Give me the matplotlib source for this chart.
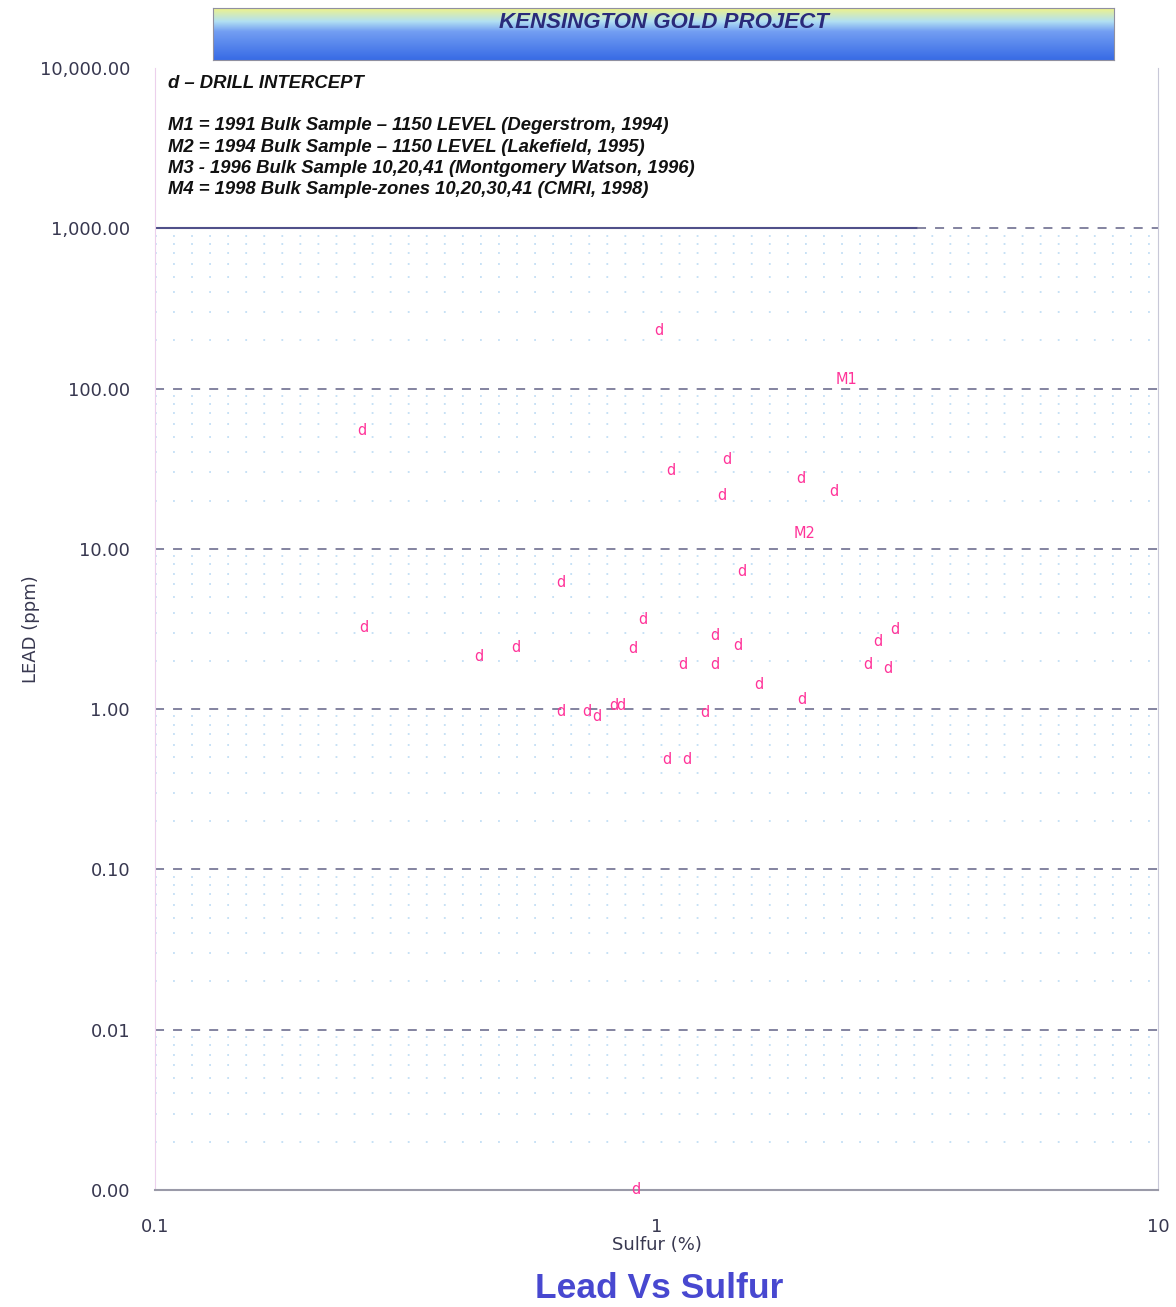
import numpy as np
import matplotlib
matplotlib.use("Agg")
import matplotlib.pyplot as plt
from matplotlib.ticker import FixedLocator, FixedFormatter, NullLocator, NullFormatter

# drill intercepts (sulfur %, lead ppm)
sulfur_d = [1.01, 0.258, 1.07, 1.38, 1.35, 1.94, 2.26, 1.48, 0.646, 0.261,
            0.938, 0.443, 0.525, 0.896, 1.31, 1.45, 1.13, 1.31, 1.60, 1.95,
            2.76, 2.99, 2.64, 2.89, 0.646, 0.728, 0.759, 0.821, 0.848, 1.25,
            1.05, 1.15, 0.908]
lead_d = [230, 55, 31, 36, 21.4, 27.4, 22.7, 7.2, 6.2, 3.25,
          3.65, 2.14, 2.44, 2.4, 2.86, 2.51, 1.91, 1.91, 1.43, 1.155,
          2.66, 3.12, 1.91, 1.80, 0.97, 0.97, 0.904, 1.06, 1.06, 0.957,
          0.487, 0.487, 0.001]

# bulk samples
bulk_names = ["M1", "M2"]
sulfur_m = [2.39, 1.97]
lead_m = [114, 12.4]

y_ticks = [0.001, 0.01, 0.1, 1, 10, 100, 1000, 10000]
y_labels = ["0.00", "0.01", "0.10", "1.00", "10.00", "100.00", "1,000.00", "10,000.00"]
x_ticks = [0.1, 1, 10]
x_labels = ["0.1", "1", "10"]

legend_lines = [
    "d \u2013 DRILL INTERCEPT",
    "",
    "M1 = 1991 Bulk Sample \u2013 1150 LEVEL (Degerstrom, 1994)",
    "M2 = 1994 Bulk Sample \u2013 1150 LEVEL (Lakefield, 1995)",
    "M3 - 1996 Bulk Sample 10,20,41 (Montgomery Watson, 1996)",
    "M4 = 1998 Bulk Sample-zones 10,20,30,41 (CMRI, 1998)",
]

pink = "#ff3399"
tick_col = "#383850"

fig = plt.figure(figsize=(11.76, 13.07), dpi=100)
ax = fig.add_axes([155 / 1176, 1 - 1190 / 1307, 1003 / 1176, 1122 / 1307])
ax.set_xscale("log")
ax.set_yscale("log")
ax.set_xlim(0.1, 10)
ax.set_ylim(0.001, 10000)

ax.yaxis.set_major_locator(FixedLocator(y_ticks))
ax.yaxis.set_major_formatter(FixedFormatter(y_labels))
ax.yaxis.set_minor_locator(NullLocator())
ax.xaxis.set_major_locator(FixedLocator(x_ticks))
ax.xaxis.set_major_formatter(FixedFormatter(x_labels))
ax.xaxis.set_minor_locator(NullLocator())
ax.tick_params(axis="both", which="both", length=0)
ax.tick_params(axis="y", pad=18, labelsize=13, labelcolor=tick_col)
ax.tick_params(axis="x", pad=20, labelsize=13, labelcolor=tick_col)

# grid lines only below 1,000
for dec in [0.001, 0.01, 0.1, 1, 10, 100]:
    for m in range(2, 10):
        ax.axhline(dec * m, color="#c2def5", linestyle=(0, (1, 9)), linewidth=1.3, zorder=0)
for v in [0.01, 0.1, 1, 10, 100]:
    ax.axhline(v, color="#7a7a98", linestyle=(0, (5, 5)), linewidth=1.3, zorder=1)
ax.axhline(1000, xmin=0, xmax=0.76, color="#50508a", linewidth=1.5)
ax.axhline(1000, xmin=0.76, xmax=1, color="#7a7a98", linestyle=(0, (5, 5)), linewidth=1.3)

ax.spines["top"].set_visible(False)
ax.spines["left"].set_color("#ecd0ec")
ax.spines["right"].set_color("#c8c8d8")
ax.spines["bottom"].set_color("#9a9aa8")
ax.spines["bottom"].set_linewidth(1.5)

for x, y in zip(sulfur_d, lead_d):
    ax.text(x, y, "d", color=pink, fontsize=10.5, ha="center", va="center")
for name, x, y in zip(bulk_names, sulfur_m, lead_m):
    ax.text(x, y, name, color=pink, fontsize=10.5, ha="center", va="center")

ax.set_xlabel("Sulfur (%)", fontsize=13, color=tick_col, labelpad=0)
ax.set_ylabel("LEAD (ppm)", fontsize=13, color=tick_col)
ax.yaxis.set_label_coords(-115 / 1003, 0.5)

for i, line in enumerate(legend_lines):
    yy = 84 if i == 0 else 126 + (i - 2) * 21.3
    if line:
        fig.text(168 / 1176, 1 - yy / 1307, line, fontsize=13.3, fontstyle="italic",
                 fontweight="bold", family="Liberation Sans", color="#111111",
                 ha="left", va="center")

fig.text(659 / 1176, 1 - 1288 / 1307, "Lead Vs Sulfur", fontsize=25.5, fontweight="bold",
         family="Liberation Sans", color="#4848d0", ha="center", va="center")

# banner
bax = fig.add_axes([213 / 1176, 1 - 60 / 1307, 901 / 1176, 52 / 1307])
grad_pos = [0.0, 0.25, 0.45, 1.0]
grad_cols = [(0.93, 0.95, 0.55), (0.70, 0.88, 0.95), (0.45, 0.62, 0.95), (0.22, 0.42, 0.90)]
rows = np.linspace(0, 1, 60)
img = np.zeros((60, 2, 3))
for c in range(3):
    img[:, :, c] = np.interp(rows, grad_pos, [g[c] for g in grad_cols])[:, None]
bax.imshow(img, aspect="auto", extent=[0, 1, 1, 0])
bax.set_xlim(0, 1)
bax.set_ylim(1, 0)
bax.set_xticks([])
bax.set_yticks([])
for s in bax.spines.values():
    s.set_color("#9090a0")
bax.text(0.50, 0.27, "KENSINGTON GOLD PROJECT", fontsize=16, fontstyle="italic",
         fontweight="bold", family="Liberation Sans", color="#2a2a7a",
         ha="center", va="center")

fig.savefig("out.png", dpi=100)
